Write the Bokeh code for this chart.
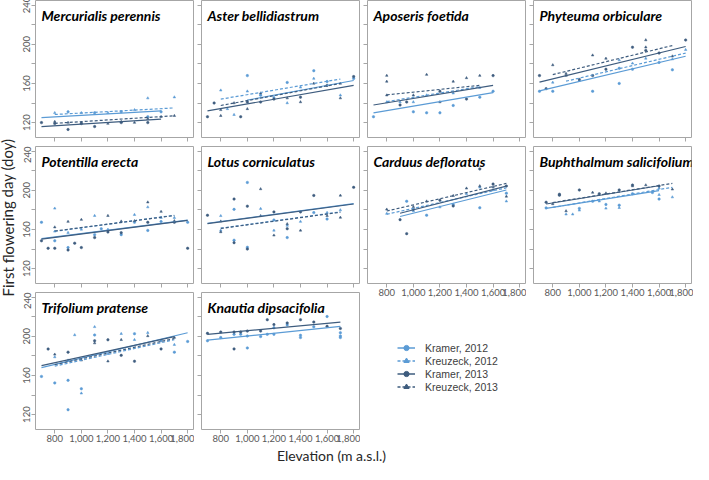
from bokeh.plotting import figure
from bokeh.layouts import row, column
from bokeh.models import Range1d, FixedTicker, Label, Legend, LegendItem
from bokeh.embed import file_html
from bokeh.resources import INLINE

# ---------------- data ----------------
SERIES = ["Kramer, 2012", "Kreuzeck, 2012", "Kramer, 2013", "Kreuzeck, 2013"]
XTICKS = [800, 1000, 1200, 1400, 1600, 1800]
XTICK_LABELS = ["800", "1,000", "1,200", "1,400", "1,600", "1,800"]
YTICKS = [120, 140, 160, 180, 200, 220, 240]
YTICK_LABELS = ["120", "", "160", "", "200", "", "240"]
X_LIMITS = (655, 1844)
Y_LIMITS = (104.8, 244.7)
Y_TITLE = "First flowering day (doy)"
X_TITLE = "Elevation (m a.s.l.)"

SPECIES = ["Mercurialis perennis", "Aster bellidiastrum", "Aposeris foetida", "Phyteuma orbiculare",
           "Potentilla erecta", "Lotus corniculatus", "Carduus defloratus", "Buphthalmum salicifolium",
           "Trifolium pratense", "Knautia dipsacifolia"]

# series index: 0 Kramer 2012, 1 Kreuzeck 2012, 2 Kramer 2013, 3 Kreuzeck 2013
# fits: (elev start, doy start, elev end, doy end) per series
MERC_ELEV = [800, 900, 1000, 1100, 1200, 1300, 1400, 1500, 1600, 1700, 1500,
             700, 800, 800, 900, 900, 1000, 1000, 1100, 1200, 1300, 1300, 1400, 1500, 1500, 1600, 1700]
MERC_DOY = [130, 131, 130, 130, 130, 131, 133, 145, 131, 146, 126,
            120, 121, 119, 120, 113, 120, 119, 116, 119, 121, 120, 120, 120, 124, 126, 127]
MERC_SER = [1, 0, 1, 0, 1, 0, 1, 1, 0, 1, 0,
            2, 3, 2, 3, 2, 3, 2, 2, 3, 3, 2, 3, 2, 3, 3, 3]
MERC_FIT = [(700, 125, 1600, 132), (800, 128.3, 1700, 135), (700, 116, 1600, 123.6), (800, 119.3, 1700, 127)]

ASTER_ELEV = [700, 750, 800, 800, 800, 850, 900, 900, 950, 1000, 1000, 1000, 1000, 1100, 1100, 1100,
              1200, 1200, 1300, 1300, 1300, 1400, 1400, 1400, 1500, 1500, 1500, 1600, 1600, 1700, 1700,
              1700, 1800, 1800]
ASTER_DOY = [126, 140, 153, 133, 127, 134, 140, 128, 126, 168, 152, 141, 134, 150, 148, 141,
             146, 144, 161, 145, 140, 156, 146, 141, 173, 165, 160, 162, 158, 160, 148,
             145, 167, 165]
ASTER_SER = [2, 2, 1, 3, 3, 1, 3, 1, 2, 0, 1, 2, 3, 3, 0, 2,
             1, 2, 0, 3, 1, 1, 2, 3, 0, 1, 3, 0, 2, 3, 1,
             3, 2, 0]
ASTER_FIT = [(1000, 143, 1800, 163), (800, 144, 1700, 164.5), (700, 132, 1800, 158), (800, 137.5, 1700, 160)]

APOS_ELEV = [700, 800, 800, 800, 800, 900, 900, 950, 1000, 1000, 1000, 1100, 1100, 1100, 1200, 1200,
             1200, 1300, 1300, 1300, 1400, 1400, 1500, 1500, 1500, 1600, 1600]
APOS_DOY = [126, 168, 162, 148, 141, 141, 138, 141, 148, 141, 131, 169, 148, 130, 152, 141,
            130, 162, 150, 137.5, 165.6, 144, 168, 155.7, 146, 168, 152]
APOS_SER = [0, 3, 3, 3, 1, 1, 2, 2, 3, 1, 0, 3, 1, 0, 2, 3,
            0, 3, 1, 0, 3, 2, 3, 1, 0, 2, 0]
APOS_FIT = [(700, 130, 1600, 150.7), (800, 141.5, 1500, 156.7), (700, 138, 1600, 158), (800, 148.4, 1500, 158)]

PHYT_ELEV = [700, 750, 700, 800, 800, 800, 900, 900, 1000, 1000, 1100, 1100, 1100, 1200, 1200, 1300,
             1300, 1300, 1400, 1400, 1400, 1500, 1500, 1500, 1500, 1600, 1600, 1700, 1700, 1700, 1800, 1800]
PHYT_DOY = [168, 154.7, 152, 178.8, 161, 152, 170, 168, 163, 164, 188.8, 152, 168, 185.5, 174.5, 183.8,
            175.5, 160, 197, 180.5, 174.5, 204.3, 197, 193.7, 185.5, 191, 181.5, 187.8, 184.8, 173.9, 204.3, 194.4]
PHYT_SER = [2, 2, 0, 3, 1, 0, 3, 3, 1, 2, 3, 0, 2, 3, 2, 1,
            0, 0, 2, 1, 0, 3, 3, 2, 1, 2, 0, 3, 1, 0, 2, 1]
PHYT_FIT = [(700, 152.4, 1800, 187.8), (900, 162.3, 1800, 191), (700, 161.3, 1800, 197.7), (800, 169, 1700, 198.7)]

POTE_ELEV = [700, 700, 750, 800, 800, 800, 800, 800, 900, 900, 900, 900, 950, 1000, 1000, 1000, 1100,
             1100, 1100, 1150, 1200, 1200, 1200, 1300, 1300, 1300, 1400, 1400, 1400, 1500, 1500, 1500,
             1500, 1600, 1600, 1600, 1700, 1700, 1700, 1800, 1800]
POTE_DOY = [167.3, 148.4, 140.8, 181.5, 162.3, 158, 148.4, 140.8, 168, 156.7, 141.5, 139, 146, 170, 160,
            141.5, 174, 154.7, 151.7, 160.7, 174, 160, 157.4, 168.3, 154.7, 156.7, 175, 168.7, 167.3,
            187.8, 182.8, 167.3, 159, 178.2, 172, 168, 172, 168.7, 167.3, 167.3, 140.8]
POTE_SER = [0, 2, 2, 1, 3, 1, 0, 2, 3, 1, 0, 2, 2, 3, 1, 2, 1,
            0, 2, 0, 3, 1, 2, 3, 0, 2, 1, 3, 0, 3, 1, 2,
            0, 3, 1, 0, 1, 3, 2, 0, 2]
POTE_FIT = [(700, 150.7, 1800, 169.6), (800, 158, 1700, 174.5), (700, 150.2, 1800, 169.2), (800, 158.4, 1700, 174.2)]

LOTU_ELEV = [700, 800, 800, 800, 800, 900, 900, 900, 900, 1000, 1000, 1000, 1000, 1100, 1100, 1100,
             1200, 1200, 1200, 1200, 1300, 1300, 1300, 1300, 1400, 1400, 1400, 1500, 1500, 1600, 1600,
             1600, 1700, 1700, 1700, 1800]
LOTU_DOY = [174.5, 173.9, 168.3, 159, 157.4, 191, 180.5, 149, 146.5, 208, 183.8, 141.8, 140, 201.3,
            181.2, 173.9, 177.9, 169.6, 159, 154, 165.6, 164, 160.7, 151.7, 177.9, 168, 159, 194.7,
            177.2, 177.2, 174, 170.6, 194.7, 179.8, 172.2, 203]
LOTU_SER = [2, 1, 3, 1, 3, 2, 0, 0, 2, 0, 2, 0, 2, 3, 1, 3,
            2, 0, 1, 3, 3, 1, 2, 0, 2, 1, 3, 2, 0, 1, 3,
            0, 3, 1, 3, 2]
LOTU_FIT = [(700, 166.3, 1800, 186.4), (800, 161.3, 1700, 177.9), (700, 166.0, 1800, 186.0), (800, 161.0, 1700, 177.6)]

CARD_ELEV = [800, 800, 900, 950, 950, 1000, 1000, 1000, 1100, 1100, 1200, 1200, 1300, 1300, 1300, 1400,
             1400, 1500, 1500, 1500, 1500, 1600, 1600, 1600, 1700, 1700, 1700, 1700]
CARD_DOY = [180.5, 176.2, 170, 155.7, 188.8, 183.1, 180.5, 178.8, 174.5, 188.8, 189.8, 182.8, 194.4,
            185.5, 184, 202, 196.4, 221.8, 204.3, 203, 182.1, 206.3, 203.3, 200.3, 204.3, 197, 193.7, 188.8]
CARD_SER = [3, 1, 2, 2, 0, 3, 2, 1, 0, 3, 2, 1, 3, 0, 2, 3,
            1, 2, 3, 1, 0, 2, 3, 1, 2, 0, 3, 1]
CARD_FIT = [(900, 173.2, 1700, 200.3), (800, 175.5, 1700, 202.5), (900, 176.5, 1700, 204.3), (800, 178.8, 1700, 207)]

BUPH_ELEV = [750, 750, 800, 850, 850, 900, 900, 950, 1000, 1000, 1000, 1100, 1100, 1150, 1150, 1200,
             1200, 1200, 1300, 1300, 1300, 1400, 1400, 1400, 1500, 1550, 1600, 1600, 1600, 1600, 1700, 1700]
BUPH_DOY = [187.8, 182, 186, 196, 195, 178.8, 175.5, 175.5, 200.3, 181.5, 179.5, 197.7, 188.8, 196.4,
            188.8, 197, 185.5, 181.5, 200.3, 184.8, 182.1, 205.3, 204.3, 196.4, 205.3, 197.7, 204.3,
            202, 195.4, 191, 201, 193]
BUPH_SER = [2, 0, 3, 2, 2, 3, 1, 1, 2, 0, 1, 3, 0, 2, 1, 3,
            0, 1, 2, 0, 1, 2, 3, 0, 3, 0, 2, 1, 1, 0, 3, 1]
BUPH_FIT = [(750, 181.5, 1600, 199.7), (800, 182.5, 1700, 203), (750, 186, 1600, 204.6), (800, 187.5, 1700, 207)]

TRIF_ELEV = [700, 750, 800, 800, 800, 900, 900, 900, 900, 950, 1000, 1000, 1000, 1100, 1100, 1100, 1100,
             1200, 1200, 1200, 1300, 1300, 1300, 1400, 1400, 1400, 1500, 1500, 1600, 1600, 1700, 1700,
             1700, 1800]
TRIF_DOY = [159, 187, 181.5, 178.8, 152.4, 183.8, 175.5, 155, 125, 201.3, 175.5, 146.4, 141.8, 209.6,
            201.3, 195.4, 193, 196.4, 182.1, 174.5, 202.6, 196.4, 180.5, 202.6, 196.4, 174.5, 203.6,
            200.3, 195.4, 187.1, 198.7, 191.4, 183.8, 194.7]
TRIF_SER = [0, 2, 3, 1, 0, 2, 1, 0, 0, 1, 3, 0, 1, 1, 0, 2, 3,
            2, 1, 3, 1, 3, 2, 0, 1, 2, 1, 3, 0, 2, 3, 1,
            0, 0]
TRIF_FIT = [(700, 168, 1800, 203.6), (800, 169.5, 1700, 196.5), (700, 170, 1700, 199.7), (800, 171, 1700, 197.7)]

KNAU_ELEV = [700, 700, 800, 800, 900, 900, 900, 950, 950, 1000, 1000, 1000, 1100, 1100, 1150, 1150,
             1200, 1200, 1200, 1300, 1300, 1400, 1400, 1400, 1500, 1500, 1600, 1600, 1700, 1700, 1700, 1700]
KNAU_DOY = [203, 195.4, 204.3, 198.7, 204.3, 202, 187.1, 204.3, 202, 205.3, 200.3, 188.1, 205.3, 199.7,
            216.9, 202, 211.9, 208.6, 202, 213.6, 211.6, 216.9, 201, 198.7, 214.5, 209.6, 220.2, 210.2,
            208, 203.6, 200.3, 198.7]
KNAU_SER = [2, 0, 2, 0, 2, 0, 2, 2, 0, 2, 0, 0, 2, 0, 2, 0,
            2, 0, 0, 2, 0, 2, 0, 0, 2, 0, 0, 2, 2, 0, 0, 0]
KNAU_FIT = [(700, 196, 1700, 210.2), None, (700, 202, 1700, 214.5), None]

PANEL_DATA = [
    (MERC_ELEV, MERC_DOY, MERC_SER, MERC_FIT),
    (ASTER_ELEV, ASTER_DOY, ASTER_SER, ASTER_FIT),
    (APOS_ELEV, APOS_DOY, APOS_SER, APOS_FIT),
    (PHYT_ELEV, PHYT_DOY, PHYT_SER, PHYT_FIT),
    (POTE_ELEV, POTE_DOY, POTE_SER, POTE_FIT),
    (LOTU_ELEV, LOTU_DOY, LOTU_SER, LOTU_FIT),
    (CARD_ELEV, CARD_DOY, CARD_SER, CARD_FIT),
    (BUPH_ELEV, BUPH_DOY, BUPH_SER, BUPH_FIT),
    (TRIF_ELEV, TRIF_DOY, TRIF_SER, TRIF_FIT),
    (KNAU_ELEV, KNAU_DOY, KNAU_SER, KNAU_FIT),
]

# ---------------- style / layout ----------------
LIGHT = "#5B9BD5"
DARK = "#3E5C7E"
SER_COLOR = [LIGHT, LIGHT, DARK, DARK]
SER_DASH = ["solid", "3 2", "solid", "3 2"]
SER_MARKER = ["circle", "triangle", "circle", "triangle"]
FRAME_W, FRAME_H = 158, 137
BOX = "#A6A6A6"
TICK_FONT = "Lato"
TICK_COLOR = "#595959"
YLAB_W = 24
XLAB_H = 18
TOP_PAD = 8
ROOT_MARGIN = (-8, 0, 0, -6)   # root lands at page (2, 0)


def style_axis(ax, ticks, labels, show, vertical=False):
    ax.ticker = FixedTicker(ticks=ticks)
    ax.axis_line_color = None
    ax.major_tick_line_color = BOX
    ax.major_tick_out = 4
    ax.major_tick_in = 0
    ax.minor_tick_line_color = None
    ax.major_label_text_font = TICK_FONT
    ax.major_label_text_color = TICK_COLOR
    if show:
        ax.major_label_overrides = {t: l for t, l in zip(ticks, labels)}
        ax.major_label_text_font_size = "9.5px"
        ax.major_label_standoff = 1
        if vertical:
            ax.major_label_orientation = "vertical"
    else:
        ax.major_label_overrides = {t: "" for t in ticks}
        ax.major_label_text_font_size = "0px"
        ax.major_label_standoff = 0


def make_panel(idx):
    elev, doy, ser, fit = PANEL_DATA[idx]
    col, rw = idx % 4, idx // 4
    show_y = col == 0
    show_x = idx in (6, 7, 8, 9)
    bl = 17 if show_y else 7
    br = 2 if col == 3 else 1
    bt = TOP_PAD if rw == 0 else 0
    bb = 17 if show_x else 9
    p = figure(width=bl + FRAME_W + br, height=bt + FRAME_H + bb,
               x_range=Range1d(*X_LIMITS), y_range=Range1d(*Y_LIMITS),
               output_backend="svg", toolbar_location=None,
               min_border_left=bl, min_border_right=br, min_border_top=bt, min_border_bottom=bb)
    p.title.visible = False
    p.grid.visible = False
    p.outline_line_color = BOX
    p.outline_line_width = 1
    p.background_fill_color = "white"
    p.border_fill_color = "white"
    style_axis(p.xaxis[0], XTICKS, XTICK_LABELS, show_x)
    style_axis(p.yaxis[0], YTICKS, YTICK_LABELS, show_y, vertical=True)

    for s in range(4):
        xs = [e for e, k in zip(elev, ser) if k == s]
        ys = [d for d, k in zip(doy, ser) if k == s]
        if xs:
            p.scatter(xs, ys, marker=SER_MARKER[s], size=2.5, color=SER_COLOR[s], line_width=0.5)
    for s in range(4):
        f = fit[s]
        if f is None:
            continue
        p.line([f[0], f[2]], [f[1], f[3]], line_color=SER_COLOR[s], line_width=1.2,
               line_dash=SER_DASH[s])
    p.add_layout(Label(x=6, y=FRAME_H - 15, x_units="screen", y_units="screen",
                       text=SPECIES[idx], text_font="Lato", text_font_style="bold italic",
                       text_font_size="14px", text_color="black", text_baseline="alphabetic"))
    return p


def blank(width, height):
    p = figure(width=width, height=height, x_range=Range1d(0, width), y_range=Range1d(0, height),
               output_backend="svg", toolbar_location=None, x_axis_type=None, y_axis_type=None,
               min_border=0, min_border_left=0, min_border_right=0, min_border_top=0, min_border_bottom=0)
    p.title.visible = False
    p.grid.visible = False
    p.outline_line_color = None
    p.background_fill_color = "white"
    p.border_fill_color = "white"
    return p


panels = [make_panel(i) for i in range(10)]
col_h = panels[0].height + panels[4].height + panels[8].height
row_w = YLAB_W + panels[0].width + panels[1].width + panels[2].width + panels[3].width

# legend panel: proxy renderers carry the first panel's series, drawn outside the visible range
leg_h = col_h - panels[2].height - panels[6].height
leg = blank(panels[2].width, leg_h)
items = []
elev0, doy0, ser0, fit0 = PANEL_DATA[0]
for s in range(4):
    f = fit0[s]
    lr = leg.line([f[0], f[2]], [f[1], f[3]], line_color=SER_COLOR[s], line_width=1.5,
                  line_dash=SER_DASH[s])
    xs = [e for e, k in zip(elev0, ser0) if k == s]
    ys = [d for d, k in zip(doy0, ser0) if k == s]
    sr = leg.scatter(xs, ys, marker=SER_MARKER[s], size=5 if s % 2 == 0 else 6, color=SER_COLOR[s])
    items.append(LegendItem(label=SERIES[s], renderers=[lr, sr]))
legend = Legend(items=items, location=(30, leg_h - 41 - 52), padding=0, margin=0, spacing=0,
                glyph_width=18, glyph_height=13, label_height=13, label_standoff=10,
                label_text_font="Liberation Sans", label_text_font_size="10.5px",
                label_text_color="#404040", border_line_color=None, background_fill_alpha=0)
leg.add_layout(legend)

ylab = blank(YLAB_W, col_h)
ylab.add_layout(Label(x=13, y=col_h - 225, x_units="data", y_units="data", text=Y_TITLE, angle=1.5708,
                      text_font="Lato", text_font_size="15px", text_color="#262626",
                      text_align="center", text_baseline="middle"))

xlab = blank(row_w, XLAB_H)
xlab.add_layout(Label(x=337, y=XLAB_H / 2, x_units="data", y_units="data", text=X_TITLE,
                      text_font="Lato", text_font_size="14px", text_color="#262626",
                      text_align="center", text_baseline="middle"))

col1 = column(panels[0], panels[4], panels[8])
col2 = column(panels[1], panels[5], panels[9])
col3 = column(panels[2], panels[6], leg)
col4 = column(panels[3], panels[7])
grid = row(ylab, col1, col2, col3, col4)
root = column(grid, xlab, margin=ROOT_MARGIN)

open("out.html", "w").write(file_html(root, INLINE))
